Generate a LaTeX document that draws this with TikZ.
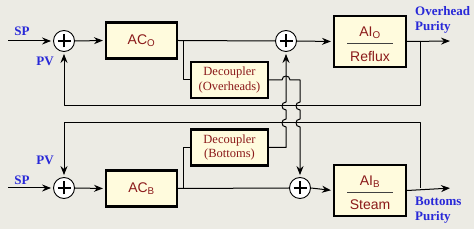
\documentclass[tikz,border=0pt]{standalone}
\usepackage{fontspec}
\setmainfont{Liberation Serif}
\newfontfamily\boxfont{Liberation Sans}
\usetikzlibrary{arrows.meta}
\definecolor{bg}{HTML}{ECEBE4}
\definecolor{boxfill}{HTML}{FFFBDD}
\definecolor{txtred}{HTML}{8B1A1A}
\definecolor{lblblue}{HTML}{2828D8}
\begin{document}
\begin{tikzpicture}[x=1pt,y=-1pt,
  blockbox/.style={draw=black, line width=2.1pt, fill=boxfill, inner sep=0pt, text=txtred},
  acbox/.style={blockbox, minimum width=71pt, minimum height=36pt, font=\boxfont\fontsize{14}{15}\selectfont},
  aibox/.style={blockbox, minimum width=72pt, minimum height=51pt},
  aitext/.style={text=txtred, font=\boxfont\fontsize{14}{15}\selectfont, inner sep=0pt},
  decbox/.style={blockbox, minimum width=77pt, minimum height=36pt, align=center, font=\fontsize{12.5}{14.5}\selectfont},
  sumnode/.style={circle, draw=black, fill=white, line width=0.9pt, minimum size=21pt, inner sep=0pt,
    path picture={\draw[line width=1.5pt] ([xshift=-6.5pt]path picture bounding box.center) -- ([xshift=6.5pt]path picture bounding box.center);
                  \draw[line width=1.5pt] ([yshift=-6.5pt]path picture bounding box.center) -- ([yshift=6.5pt]path picture bounding box.center);}},
  sig/.style={line width=1pt, line join=round},
  arr/.style={sig, -{Stealth[length=9pt,width=7pt,inset=3pt]}, shorten >=2pt},
  lbl/.style={text=lblblue, font=\bfseries\fontsize{13}{15}\selectfont, inner sep=0pt}
]
\fill[bg] (0,0) rectangle (474,229);
\useasboundingbox (0,0) rectangle (474,229);

% top loop
\node[sumnode] (s1) at (64,41) {};
\node[acbox] (ac1) at (141.5,40.5) {AC\textsubscript{O}};
\node[sumnode] (s2) at (286,41) {};
\node[aibox] (ai1) at (370,41.5) {};
\node[aitext] (ai1t) at (370,33) {AI\textsubscript{O}};
\node[aitext] (ai1b) at (370,56) {Reflux};
\draw[line width=1pt, black!75] (347,43.5) -- (393,43.5);
\node[decbox] (dc1) at (229.5,80) {Decoupler\\(Overheads)};

% bottom loop
\node[sumnode] (s3) at (64,188) {};
\node[acbox] (ac2) at (141.5,188.5) {AC\textsubscript{B}};
\node[sumnode] (s4) at (300,188) {};
\node[aibox] (ai2) at (370,190.5) {};
\node[aitext] (ai2t) at (370,182) {AI\textsubscript{B}};
\node[aitext] (ai2b) at (370,205) {Steam};
\draw[line width=1pt, black!75] (347,192.5) -- (393,192.5);
\node[decbox] (dc2) at (229.5,147.5) {Decoupler\\(Bottoms)};

% labels
\node[lbl] (sp1) at (22,31) {SP};
\node[lbl] (pv1) at (45,61) {PV};
\node[lbl] (pv2) at (45,160) {PV};
\node[lbl] (sp2) at (22,180) {SP};
\node[lbl, align=left, anchor=west] (out1) at (415,20) {Overhead\\Purity};
\node[lbl, align=left, anchor=west] (out2) at (415,210) {Bottoms\\Purity};

% coordinates
\coordinate (in1) at (8,41);
\coordinate (in2) at (8,188);
\coordinate (o1) at (452,41);
\coordinate (o2) at (452,188);
\coordinate (t1) at (420,41);
\coordinate (t2) at (420,188);
\coordinate (b1) at (183,41);
\coordinate (b2) at (183,188);

% top signal path
\draw[arr] (in1) -- (s1.west);
\draw[arr] (s1.east) -- (ac1.west);
\draw[sig] (ac1.east) -- (s2.west);
\draw[arr] (s2.east) -- (ai1.west);
\draw[arr] (ai1.east) -- (o1);
\draw[arr] (t1) -- (420,106) -- (64,106) -- (s1.south);
\draw[sig] (b1) |- (dc1.west);

% bottom signal path
\draw[arr] (in2) -- (s3.west);
\draw[arr] (s3.east) -- (ac2.west);
\draw[sig] (ac2.east) -- (s4.west);
\draw[arr] (s4.east) -- (ai2.west);
\draw[arr] (ai2.east) -- (o2);
\draw[arr] (t2) -- (420,123) -- (64,123) -- (s3.north);
\draw[sig] (b2) |- (dc2.west);

% decoupler (overheads) -> lower sum, with hops
\draw[arr] (dc1.east) -- (282,80) .. controls (282,74.7) and (290,74.7) .. (290,80)
  -- (300,80) -- (300,102) .. controls (294.7,102) and (294.7,110) .. (300,110)
  -- (300,119) .. controls (294.7,119) and (294.7,127) .. (300,127)
  -- (s4.north);

% decoupler (bottoms) -> upper sum, with hops
\draw[arr] (dc2.east) -- (286,147.5) -- (286,127) .. controls (280.7,127) and (280.7,119) .. (286,119)
  -- (286,110) .. controls (280.7,110) and (280.7,102) .. (286,102)
  -- (s2.south);
\end{tikzpicture}
\end{document}
